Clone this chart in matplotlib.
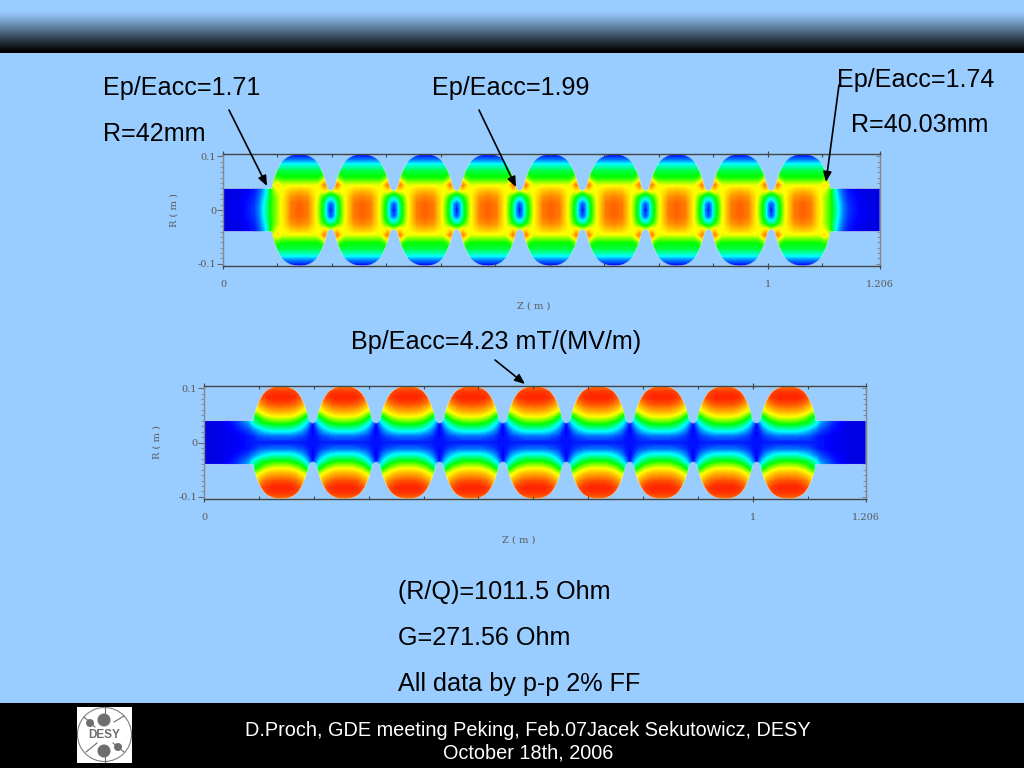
import numpy as np
import matplotlib
matplotlib.use('Agg')
import matplotlib.pyplot as plt
from matplotlib.colors import LinearSegmentedColormap
from matplotlib.patches import Rectangle, Circle, PathPatch
from matplotlib.path import Path

plt.rcParams['font.family'] = ['Liberation Sans', 'DejaVu Sans']

# geometry (metres)
iris_z = [0.0825, 0.198, 0.3135, 0.429, 0.5445, 0.66, 0.7755, 0.891, 1.0065, 1.122]
tube_r = 0.040
wall_dz = [0.0, 0.0024, 0.0049, 0.0067, 0.0086, 0.011, 0.0135, 0.0165, 0.0208,
           0.0257, 0.0306, 0.0361, 0.0428, 0.0502, 0.0577]
wall_r = [0.0358, 0.0364, 0.0383, 0.042, 0.0481, 0.0568, 0.0648, 0.0728, 0.0821,
          0.0901, 0.0951, 0.0988, 0.1019, 0.1031, 0.1037]

# field table positions
field_r = [0.0, 0.0123, 0.0247, 0.0358, 0.0463, 0.0586, 0.071, 0.0833, 0.0926, 0.104]
half_dz = [0.0, 0.0061, 0.0122, 0.0183, 0.0245, 0.0336, 0.0428, 0.0577]
end_dz = [-0.0856, -0.0489, -0.0245, -0.0153, -0.0073, 0.0, 0.0061, 0.0122, 0.0183,
          0.0245, 0.0336, 0.0428, 0.0577]

# electric field, colour scale 0..1, iris to cell centre
e_half = [
    [.05, .18, .36, .47, .58, .70, .82, .86],
    [.12, .20, .37, .48, .58, .70, .82, .85],
    [.34, .36, .44, .52, .60, .69, .78, .81],
    [.56, .60, .64, .62, .62, .65, .70, .72],
    [.60, .78, .80, .66, .60, .60, .60, .60],
    [.46, .55, .55, .49, .46, .46, .46, .46],
    [.41, .41, .41, .41, .41, .41, .41, .41],
    [.30, .30, .30, .30, .30, .30, .30, .30],
    [.17, .17, .17, .17, .17, .17, .17, .17],
    [.05, .05, .05, .05, .05, .05, .05, .05],
]
# electric field, beam tube to first cell centre
e_end = [
    [.03, .05, .11, .18, .28, .38, .46, .52, .56, .62, .70, .82, .86],
    [.03, .05, .10, .17, .27, .37, .46, .52, .56, .62, .70, .82, .85],
    [.03, .04, .09, .15, .24, .34, .45, .52, .56, .61, .69, .78, .81],
    [.03, .04, .08, .13, .21, .32, .46, .55, .60, .62, .65, .70, .72],
    [.03, .04, .07, .12, .20, .30, .50, .62, .66, .60, .60, .60, .60],
    [.03, .04, .07, .12, .20, .30, .48, .50, .49, .46, .46, .46, .46],
    [.03, .04, .07, .12, .20, .30, .41, .41, .41, .41, .41, .41, .41],
    [.03, .04, .07, .12, .20, .30, .30, .30, .30, .30, .30, .30, .30],
    [.03, .04, .07, .12, .17, .17, .17, .17, .17, .17, .17, .17, .17],
    [.03, .04, .05, .05, .05, .05, .05, .05, .05, .05, .05, .05, .05],
]
# magnetic field
h_half = [
    [.08, .08, .08, .08, .08, .08, .08, .08],
    [.06, .08, .10, .12, .13, .15, .16, .16],
    [.05, .10, .17, .22, .26, .30, .32, .32],
    [.05, .18, .27, .33, .38, .43, .46, .47],
    [.05, .30, .40, .46, .52, .56, .59, .60],
    [.05, .40, .58, .62, .66, .72, .75, .76],
    [.05, .50, .66, .74, .80, .85, .87, .88],
    [.05, .60, .72, .84, .88, .92, .94, .94],
    [.05, .60, .72, .82, .86, .90, .91, .91],
    [.05, .60, .72, .76, .78, .80, .82, .82],
]
h_end = [
    [.03, .04, .05, .06, .07, .08, .08, .08, .08, .08, .08, .08, .08],
    [.03, .04, .05, .06, .07, .08, .09, .11, .13, .14, .15, .16, .16],
    [.03, .04, .07, .09, .11, .13, .17, .20, .24, .27, .30, .32, .32],
    [.03, .04, .09, .13, .16, .20, .28, .34, .38, .42, .44, .46, .47],
    [.03, .04, .10, .15, .20, .26, .34, .42, .46, .52, .56, .59, .60],
    [.03, .04, .10, .15, .20, .30, .42, .58, .62, .66, .72, .75, .76],
    [.03, .04, .10, .15, .20, .30, .50, .66, .74, .80, .85, .87, .88],
    [.03, .04, .10, .15, .20, .30, .60, .72, .84, .88, .92, .94, .94],
    [.03, .04, .10, .15, .20, .30, .60, .72, .82, .86, .90, .91, .91],
    [.03, .04, .10, .15, .20, .30, .70, .72, .76, .78, .80, .82, .82],
]

header_shade = [0.0, 0.0, 0.0, 0.05, 0.15, 0.25, 0.36, 0.46, 0.57, 0.68, 0.79, 0.89, 1.0]

left_text = [('Ep/Eacc=1.71', 103, 88), ('R=42mm', 103, 134), ('Ep/Eacc=1.99', 432, 88),
             ('Ep/Eacc=1.74', 837, 80), ('R=40.03mm', 851, 125),
             ('Bp/Eacc=4.23 mT/(MV/m)', 351, 342), ('(R/Q)=1011.5 Ohm', 398, 592),
             ('G=271.56 Ohm', 398, 638), ('All data by p-p 2% FF', 398, 684)]
arrows = [((229, 110), (267, 186)), ((479, 110), (516, 187)),
          ((839, 85), (826, 182)), ((495, 360), (525, 384))]

jet = LinearSegmentedColormap.from_list('field', [
    (0.0, '#0000c8'), (0.06, '#0000ff'), (0.28, '#00ffff'), (0.45, '#00ff00'),
    (0.62, '#ffff00'), (0.8, '#ff8c00'), (0.92, '#ff3000'), (1.0, '#ff0000')])


def build_field(end_table, half_table):
    end_t = np.array(end_table)
    half_t = np.array(half_table)
    dz = np.array(half_dz)
    z_parts = [iris_z[0] + np.array(end_dz)]
    v_parts = [end_t]
    for iz in iris_z[1:-1]:
        z_parts.append(iz - dz[-2:0:-1])
        v_parts.append(half_t[:, -2:0:-1])
        z_parts.append(iz + dz)
        v_parts.append(half_t)
    z_parts.append(iris_z[-1] - np.array(end_dz)[-2::-1])
    v_parts.append(end_t[:, -2::-1])
    z = np.concatenate(z_parts)
    v = np.hstack(v_parts)
    r = np.array(field_r)
    full_r = np.concatenate([-r[:0:-1], r])
    full_v = np.vstack([v[:0:-1], v])
    return z, full_r, full_v


def cavity_path():
    dz = np.array(wall_dz)
    wr = np.array(wall_r)
    keep = dz > 0.008
    z_up = [0.0, iris_z[0] + 0.0073]
    r_up = [tube_r, tube_r]
    z_up += list(iris_z[0] + dz[keep])
    r_up += list(wr[keep])
    for iz in iris_z[1:-1]:
        z_up += list(iz - dz[-2:0:-1]) + list(iz + dz)
        r_up += list(wr[-2:0:-1]) + list(wr)
    z_up += list(iris_z[-1] - dz[keep][-2::-1]) + [iris_z[-1] - 0.0073, 1.206]
    r_up += list(wr[keep][-2::-1]) + [tube_r, tube_r]
    z_all = np.array(z_up + z_up[::-1])
    r_all = np.array(r_up + [-x for x in r_up[::-1]])
    return Path(np.column_stack([z_all, r_all]))


def field_plot(fig, box, end_table, half_table, xlab_pos, ylab_x):
    x0, y0, x1, y1 = box
    ax = fig.add_axes([x0 / 1024, 1 - y1 / 768, (x1 - x0) / 1024, (y1 - y0) / 768])
    ax.patch.set_visible(False)
    z, r, v = build_field(end_table, half_table)
    cs = ax.contourf(z, r, v, levels=np.linspace(0, 1, 101), cmap=jet, antialiased=False)
    clip = PathPatch(cavity_path(), transform=ax.transData, fc='none', ec='none')
    ax.add_patch(clip)
    cs.set_clip_path(clip)
    ax.add_patch(PathPatch(cavity_path(), fc='none', ec='#dfe8e8', lw=0.4))
    ax.set_xlim(0, 1.206)
    ax.set_ylim(-0.104, 0.104)

    ax.set_xticks([0, 1, 1.206], ['0', '1', '1.206'])
    ax.set_xticks(np.arange(0.1, 1.2, 0.1), minor=True)
    ax.set_yticks([-0.1, 0, 0.1], ['-0.1', '0', '0.1'])
    ax.set_yticks(np.arange(-0.1, 0.1, 0.01), minor=True)
    ax.tick_params(axis='x', which='major', length=4, width=0.8, color='#444444',
                   labelcolor='#5a5a5a', labelsize=7, pad=8, direction='inout', top=True)
    ax.tick_params(axis='x', which='minor', length=2, width=0.8, color='#444444',
                   direction='in', top=True)
    ax.tick_params(axis='y', which='major', length=4, width=0.8, color='#666666',
                   labelcolor='#5a5a5a', labelsize=7, pad=1)
    ax.tick_params(axis='y', which='minor', length=2, width=0.5, color='#777777')
    for lab in ax.get_xticklabels() + ax.get_yticklabels():
        lab.set_family('DejaVu Serif')
    # right side ticks point inwards
    right = ax.secondary_yaxis('right')
    right.set_yticks([-0.1, 0, 0.1], ['', '', ''])
    right.set_yticks(np.arange(-0.1, 0.1, 0.01), minor=True)
    right.tick_params(axis='y', which='major', length=3, width=0.6, color='#777777', direction='in')
    right.tick_params(axis='y', which='minor', length=2, width=0.5, color='#777777', direction='in')
    right.spines['right'].set_color('#888888')
    for name, spine in ax.spines.items():
        spine.set_color('#444444' if name in ('top', 'bottom') else '#888888')
        spine.set_linewidth(1.0)
    ax.set_xlabel('Z ( m )', family='DejaVu Serif', fontsize=7, color='#5a5a5a')
    ax.set_ylabel('R ( m )', family='DejaVu Serif', fontsize=7, color='#5a5a5a')
    ax.xaxis.set_label_coords(xlab_pos[0], xlab_pos[1])
    ax.yaxis.set_label_coords(ylab_x, 0.5)
    return ax


fig = plt.figure(figsize=(10.24, 7.68), dpi=100, facecolor='#99ccff')

# slide background in pixel coordinates
bg = fig.add_axes([0, 0, 1, 1])
bg.set_xlim(0, 1024)
bg.set_ylim(768, 0)
bg.axis('off')

header = LinearSegmentedColormap.from_list('header', ['#99ccff', '#000000'])
bg.imshow(np.array(header_shade)[:, None], cmap=header, vmin=0, vmax=1, aspect='auto',
          extent=[0, 1024, 53, 0], interpolation='bilinear')
bg.set_xlim(0, 1024)
bg.set_ylim(768, 0)
bg.add_patch(Rectangle((0, 703), 1024, 65, fc='black', ec='none'))

# DESY logo
gray = '#6e6e6e'
bg.add_patch(Rectangle((77, 707), 55, 56, fc='white', ec='none'))
bg.add_patch(Circle((104.5, 734.5), 27, fc='white', ec='#808080', lw=0.8))
for x0, y0, x1, y1 in [(104.5, 708, 104.5, 722), (104.5, 748, 104.5, 762),
                       (84, 717, 95, 727), (114, 722, 124, 716),
                       (86, 752, 97, 743), (113, 743, 124, 752)]:
    bg.plot([x0, x1], [y0, y1], color=gray, lw=0.8)
for cx, cy, rad in [(104, 720, 6.5), (104, 751, 6.5), (90, 723, 4), (118, 747, 4)]:
    bg.add_patch(Circle((cx, cy), rad, fc=gray, ec='none'))
bg.text(104.5, 735.5, 'DESY', ha='center', va='center', fontsize=8.5, fontweight='bold', color=gray)

for label, x, y in left_text:
    bg.text(x, y, label, ha='left', va='center', fontsize=18.1, color='black')

bg.text(528, 731, 'D.Proch, GDE meeting Peking, Feb.07Jacek Sekutowicz, DESY',
        ha='center', va='center', fontsize=14.3, color='white')
bg.text(528, 753, 'October 18th, 2006', ha='center', va='center', fontsize=14.3, color='white')

field_plot(fig, (223, 154, 880, 266), e_end, e_half, (0.473, -0.32), -0.067)
field_plot(fig, (204, 386, 866, 499), h_end, h_half, (0.476, -0.32), -0.0634)

# arrows go on top of the plots
top = fig.add_axes([0, 0, 1, 1])
top.set_xlim(0, 1024)
top.set_ylim(768, 0)
top.axis('off')
for start, end in arrows:
    top.annotate('', xy=end, xytext=start,
                 arrowprops=dict(arrowstyle='-|>,head_width=0.25,head_length=0.6', color='black',
                                 lw=1.2, shrinkA=0, shrinkB=0))

plt.savefig('out.png', dpi=100, facecolor=fig.get_facecolor())
